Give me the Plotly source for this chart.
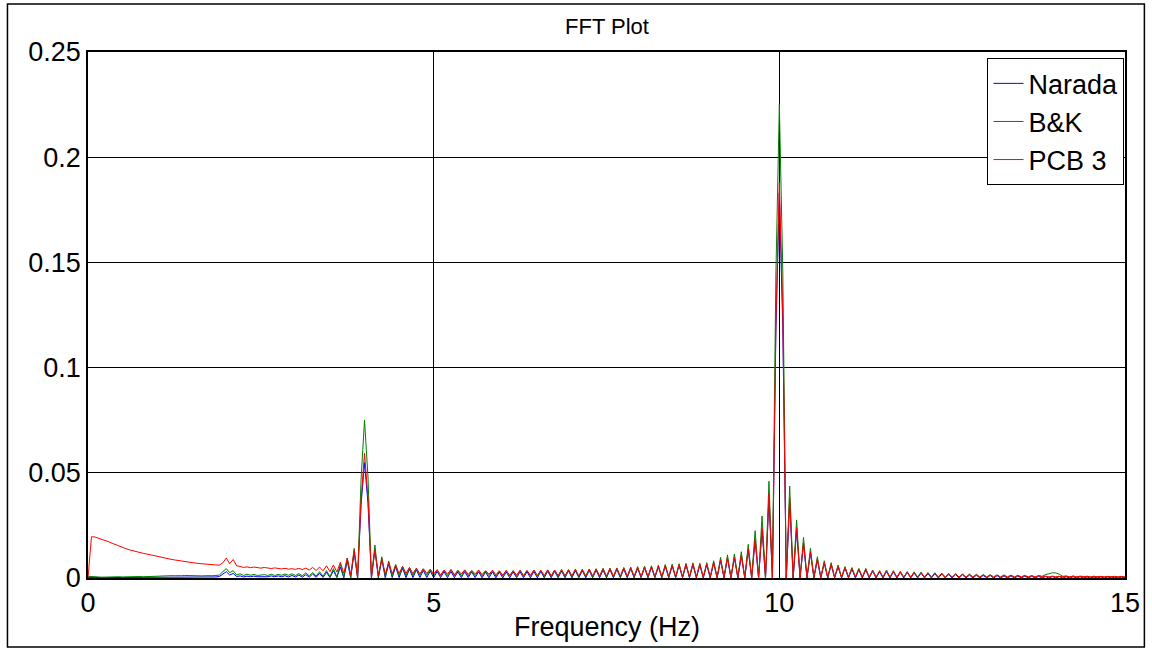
import numpy as np
import plotly.graph_objects as go

# Frequency grid (Hz), 0.05 Hz resolution, 0..15 Hz
FREQ = np.round(np.linspace(0, 15, 301), 2)

SERIES_NAMES = ["Narada", "B&K", "PCB 3"]
X_TICKS = [0, 5, 10, 15]
Y_TICKS = [0, 0.05, 0.1, 0.15, 0.2, 0.25]

NARADA = [
    0.0003, 0.0002, 0.0002, 0.0002, 0.0002, 0.0002, 0.0002, 0.0002, 0.0002, 0.0002,
    0.0002, 0.0002, 0.0002, 0.0002, 0.0002, 0.0003, 0.0002, 0.0003, 0.0003, 0.0003,
    0.0003, 0.0003, 0.0003, 0.0003, 0.0004, 0.0003, 0.0004, 0.0004, 0.0004, 0.0004,
    0.0004, 0.0004, 0.0004, 0.0004, 0.0004, 0.0004, 0.0005, 0.0005, 0.0007, 0.0018,
    0.0030, 0.0014, 0.0022, 0.0007, 0.0010, 0.0005, 0.0009, 0.0006, 0.0009, 0.0006,
    0.0006, 0.0009, 0.0006, 0.0010, 0.0006, 0.0010, 0.0006, 0.0011, 0.0005, 0.0012,
    0.0005, 0.0014, 0.0004, 0.0016, 0.0004, 0.0019, 0.0003, 0.0022, 0.0003, 0.0027,
    0.0002, 0.0035, 0.0002, 0.0052, 0.0001, 0.0080, 0.0001, 0.0120, 0.0000, 0.0350,
    0.0548, 0.0355, 0.0000, 0.0135, 0.0001, 0.0088, 0.0001, 0.0068, 0.0002, 0.0054,
    0.0002, 0.0047, 0.0002, 0.0042, 0.0002, 0.0039, 0.0002, 0.0036, 0.0002, 0.0033,
    0.0002, 0.0031, 0.0002, 0.0030, 0.0002, 0.0031, 0.0002, 0.0029, 0.0002, 0.0030,
    0.0002, 0.0029, 0.0002, 0.0030, 0.0001, 0.0028, 0.0001, 0.0029, 0.0001, 0.0028,
    0.0001, 0.0029, 0.0001, 0.0029, 0.0001, 0.0030, 0.0001, 0.0030, 0.0001, 0.0031,
    0.0001, 0.0031, 0.0001, 0.0032, 0.0001, 0.0032, 0.0001, 0.0033, 0.0001, 0.0034,
    0.0001, 0.0035, 0.0001, 0.0035, 0.0001, 0.0036, 0.0001, 0.0037, 0.0001, 0.0038,
    0.0001, 0.0040, 0.0001, 0.0041, 0.0001, 0.0042, 0.0001, 0.0044, 0.0001, 0.0046,
    0.0001, 0.0048, 0.0001, 0.0050, 0.0001, 0.0052, 0.0001, 0.0055, 0.0001, 0.0057,
    0.0001, 0.0059, 0.0001, 0.0061, 0.0001, 0.0063, 0.0000, 0.0061, 0.0000, 0.0063,
    0.0000, 0.0070, 0.0000, 0.0083, 0.0000, 0.0093, 0.0000, 0.0096, 0.0000, 0.0105,
    0.0000, 0.0133, 0.0000, 0.0178, 0.0000, 0.0230, 0.0000, 0.0375, 0.0000, 0.1170,
    0.1830, 0.1190, 0.0000, 0.0360, 0.0000, 0.0228, 0.0000, 0.0160, 0.0000, 0.0118,
    0.0000, 0.0085, 0.0000, 0.0070, 0.0000, 0.0062, 0.0000, 0.0053, 0.0000, 0.0046,
    0.0000, 0.0042, 0.0000, 0.0039, 0.0000, 0.0038, 0.0000, 0.0032, 0.0000, 0.0029,
    0.0000, 0.0031, 0.0000, 0.0029, 0.0000, 0.0027, 0.0000, 0.0026, 0.0000, 0.0024,
    0.0000, 0.0023, 0.0000, 0.0021, 0.0000, 0.0020, 0.0000, 0.0019, 0.0000, 0.0017,
    0.0000, 0.0016, 0.0000, 0.0015, 0.0000, 0.0014, 0.0000, 0.0013, 0.0000, 0.0012,
    0.0000, 0.0012, 0.0000, 0.0011, 0.0000, 0.0010, 0.0000, 0.0010, 0.0000, 0.0009,
    0.0000, 0.0009, 0.0000, 0.0008, 0.0000, 0.0008, 0.0000, 0.0007, 0.0000, 0.0007,
    0.0000, 0.0007, 0.0000, 0.0006, 0.0000, 0.0006, 0.0000, 0.0006, 0.0000, 0.0005,
    0.0000, 0.0005, 0.0000, 0.0005, 0.0000, 0.0005, 0.0000, 0.0004, 0.0000, 0.0004,
    0.0000,
]

BK = [
    0.0008, 0.0006, 0.0005, 0.0005, 0.0004, 0.0005, 0.0004, 0.0005, 0.0005, 0.0006,
    0.0005, 0.0006, 0.0006, 0.0005, 0.0006, 0.0007, 0.0006, 0.0007, 0.0007, 0.0008,
    0.0008, 0.0009, 0.0010, 0.0010, 0.0011, 0.0011, 0.0010, 0.0011, 0.0012, 0.0011,
    0.0011, 0.0012, 0.0011, 0.0010, 0.0011, 0.0010, 0.0011, 0.0012, 0.0014, 0.0030,
    0.0045, 0.0025, 0.0035, 0.0014, 0.0020, 0.0012, 0.0018, 0.0013, 0.0017, 0.0012,
    0.0013, 0.0016, 0.0012, 0.0018, 0.0012, 0.0017, 0.0013, 0.0019, 0.0013, 0.0020,
    0.0012, 0.0021, 0.0011, 0.0024, 0.0010, 0.0026, 0.0009, 0.0030, 0.0008, 0.0035,
    0.0006, 0.0045, 0.0005, 0.0065, 0.0004, 0.0095, 0.0003, 0.0141, 0.0002, 0.0470,
    0.0751, 0.0480, 0.0002, 0.0157, 0.0004, 0.0101, 0.0006, 0.0081, 0.0008, 0.0064,
    0.0010, 0.0056, 0.0011, 0.0050, 0.0012, 0.0046, 0.0012, 0.0043, 0.0013, 0.0040,
    0.0012, 0.0037, 0.0011, 0.0036, 0.0012, 0.0038, 0.0010, 0.0035, 0.0011, 0.0036,
    0.0010, 0.0034, 0.0011, 0.0036, 0.0010, 0.0033, 0.0011, 0.0035, 0.0009, 0.0034,
    0.0009, 0.0035, 0.0009, 0.0034, 0.0008, 0.0036, 0.0008, 0.0035, 0.0008, 0.0037,
    0.0008, 0.0036, 0.0007, 0.0038, 0.0007, 0.0037, 0.0007, 0.0039, 0.0007, 0.0040,
    0.0006, 0.0042, 0.0006, 0.0041, 0.0006, 0.0043, 0.0006, 0.0044, 0.0005, 0.0046,
    0.0005, 0.0047, 0.0005, 0.0048, 0.0005, 0.0050, 0.0005, 0.0052, 0.0004, 0.0054,
    0.0004, 0.0056, 0.0004, 0.0058, 0.0004, 0.0061, 0.0004, 0.0064, 0.0003, 0.0066,
    0.0003, 0.0068, 0.0003, 0.0070, 0.0003, 0.0072, 0.0003, 0.0070, 0.0002, 0.0073,
    0.0002, 0.0082, 0.0002, 0.0098, 0.0002, 0.0110, 0.0001, 0.0114, 0.0001, 0.0125,
    0.0001, 0.0160, 0.0001, 0.0225, 0.0001, 0.0295, 0.0000, 0.0460, 0.0000, 0.1440,
    0.2250, 0.1460, 0.0000, 0.0437, 0.0001, 0.0276, 0.0001, 0.0193, 0.0001, 0.0141,
    0.0002, 0.0101, 0.0002, 0.0082, 0.0002, 0.0073, 0.0003, 0.0062, 0.0003, 0.0054,
    0.0003, 0.0050, 0.0003, 0.0046, 0.0003, 0.0046, 0.0003, 0.0038, 0.0003, 0.0035,
    0.0003, 0.0038, 0.0003, 0.0035, 0.0003, 0.0032, 0.0003, 0.0031, 0.0003, 0.0029,
    0.0003, 0.0028, 0.0003, 0.0026, 0.0003, 0.0025, 0.0003, 0.0023, 0.0003, 0.0022,
    0.0003, 0.0021, 0.0003, 0.0020, 0.0003, 0.0019, 0.0003, 0.0018, 0.0003, 0.0017,
    0.0003, 0.0016, 0.0003, 0.0015, 0.0003, 0.0015, 0.0003, 0.0014, 0.0003, 0.0013,
    0.0003, 0.0013, 0.0003, 0.0012, 0.0004, 0.0012, 0.0008, 0.0016, 0.0020, 0.0025,
    0.0024, 0.0018, 0.0008, 0.0010, 0.0004, 0.0010, 0.0004, 0.0009, 0.0004, 0.0009,
    0.0004, 0.0009, 0.0004, 0.0008, 0.0004, 0.0008, 0.0004, 0.0008, 0.0004, 0.0008,
    0.0004,
]

PCB3 = [
    0.0000, 0.0196, 0.0195, 0.0190, 0.0185, 0.0179, 0.0172, 0.0165, 0.0158, 0.0151,
    0.0145, 0.0139, 0.0134, 0.0129, 0.0125, 0.0121, 0.0117, 0.0114, 0.0110, 0.0106,
    0.0102, 0.0099, 0.0095, 0.0092, 0.0089, 0.0086, 0.0083, 0.0080, 0.0077, 0.0075,
    0.0073, 0.0071, 0.0069, 0.0067, 0.0066, 0.0064, 0.0063, 0.0062, 0.0061, 0.0072,
    0.0095, 0.0068, 0.0088, 0.0058, 0.0055, 0.0050, 0.0053, 0.0049, 0.0052, 0.0048,
    0.0047, 0.0050, 0.0046, 0.0045, 0.0048, 0.0044, 0.0043, 0.0046, 0.0042, 0.0044,
    0.0041, 0.0046, 0.0040, 0.0047, 0.0038, 0.0050, 0.0036, 0.0052, 0.0034, 0.0058,
    0.0030, 0.0062, 0.0028, 0.0075, 0.0022, 0.0095, 0.0015, 0.0131, 0.0005, 0.0370,
    0.0593, 0.0380, 0.0005, 0.0131, 0.0012, 0.0092, 0.0018, 0.0074, 0.0020, 0.0062,
    0.0022, 0.0055, 0.0022, 0.0050, 0.0021, 0.0047, 0.0020, 0.0044, 0.0022, 0.0042,
    0.0020, 0.0040, 0.0015, 0.0038, 0.0018, 0.0041, 0.0016, 0.0037, 0.0019, 0.0039,
    0.0017, 0.0036, 0.0020, 0.0038, 0.0016, 0.0035, 0.0018, 0.0037, 0.0015, 0.0034,
    0.0014, 0.0036, 0.0013, 0.0035, 0.0014, 0.0037, 0.0012, 0.0036, 0.0013, 0.0038,
    0.0012, 0.0037, 0.0012, 0.0039, 0.0011, 0.0038, 0.0012, 0.0040, 0.0011, 0.0039,
    0.0011, 0.0041, 0.0010, 0.0040, 0.0011, 0.0042, 0.0010, 0.0043, 0.0010, 0.0044,
    0.0009, 0.0045, 0.0009, 0.0046, 0.0009, 0.0048, 0.0008, 0.0049, 0.0008, 0.0051,
    0.0008, 0.0053, 0.0008, 0.0055, 0.0007, 0.0057, 0.0007, 0.0060, 0.0007, 0.0062,
    0.0006, 0.0064, 0.0006, 0.0066, 0.0006, 0.0068, 0.0005, 0.0066, 0.0005, 0.0068,
    0.0005, 0.0075, 0.0004, 0.0088, 0.0004, 0.0098, 0.0003, 0.0100, 0.0003, 0.0110,
    0.0002, 0.0140, 0.0002, 0.0185, 0.0001, 0.0240, 0.0001, 0.0400, 0.0000, 0.1200,
    0.1880, 0.1250, 0.0000, 0.0380, 0.0001, 0.0240, 0.0002, 0.0170, 0.0002, 0.0125,
    0.0003, 0.0090, 0.0003, 0.0074, 0.0004, 0.0066, 0.0004, 0.0056, 0.0004, 0.0050,
    0.0005, 0.0046, 0.0005, 0.0042, 0.0005, 0.0041, 0.0005, 0.0035, 0.0005, 0.0032,
    0.0005, 0.0034, 0.0005, 0.0031, 0.0005, 0.0029, 0.0005, 0.0028, 0.0005, 0.0026,
    0.0005, 0.0025, 0.0005, 0.0023, 0.0005, 0.0022, 0.0005, 0.0021, 0.0005, 0.0019,
    0.0005, 0.0018, 0.0005, 0.0017, 0.0005, 0.0016, 0.0006, 0.0015, 0.0006, 0.0014,
    0.0006, 0.0014, 0.0006, 0.0013, 0.0006, 0.0012, 0.0006, 0.0012, 0.0006, 0.0011,
    0.0006, 0.0011, 0.0006, 0.0010, 0.0006, 0.0010, 0.0006, 0.0009, 0.0006, 0.0009,
    0.0006, 0.0008, 0.0006, 0.0008, 0.0006, 0.0008, 0.0006, 0.0008, 0.0006, 0.0007,
    0.0006, 0.0007, 0.0006, 0.0007, 0.0006, 0.0007, 0.0006, 0.0007, 0.0006, 0.0007,
    0.0006,
]

COLORS = ["#0000FF", "#008000", "#FF0000"]
FONT = "Liberation Sans, Arial, sans-serif"

fig = go.Figure()
for name, vals, col in zip(SERIES_NAMES, [NARADA, BK, PCB3], COLORS):
    fig.add_trace(go.Scatter(x=FREQ, y=vals, mode="lines", name=name,
                             line=dict(color=col, width=1)))

axis_common = dict(showline=True, linecolor="black", linewidth=1.5, mirror=True,
                   showgrid=True, gridcolor="black", gridwidth=1.3,
                   ticks="inside", ticklen=5, tickcolor="black", zeroline=False,
                   tickfont=dict(family=FONT, size=27, color="black"))

fig.update_layout(
    width=1152, height=648,
    margin=dict(l=88, r=21, t=52, b=70),
    paper_bgcolor="white", plot_bgcolor="white",
    showlegend=True,
    legend=dict(x=0.9995, y=0.988, xanchor="right", yanchor="top",
                bgcolor="white", bordercolor="black", borderwidth=1,
                font=dict(family=FONT, size=27, color="black"),
                tracegroupgap=0, itemwidth=30),
    xaxis=dict(range=[0, 15], tickvals=X_TICKS, **axis_common),
    yaxis=dict(range=[0, 0.25], tickvals=Y_TICKS, **axis_common),
    annotations=[
        dict(text="FFT Plot", xref="paper", yref="paper", x=0.5, y=(578 - 27) / 526,
             xanchor="center", yanchor="middle", showarrow=False,
             font=dict(family=FONT, size=22, color="black")),
        dict(text="Frequency (Hz)", xref="paper", yref="paper", x=0.5, y=(578 - 627) / 526,
             xanchor="center", yanchor="middle", showarrow=False,
             font=dict(family=FONT, size=27, color="black")),
    ],
    shapes=[
        dict(type="rect", xref="paper", yref="paper",
             x0=(7 - 88) / 1043, x1=(1150.5 - 88) / 1043,
             y0=(578 - 647) / 526, y1=(578 - 4) / 526,
             line=dict(color="black", width=1.5), fillcolor="rgba(0,0,0,0)", layer="below"),
    ],
)

fig.write_html(
    "out.html",
    config={"displayModeBar": False, "responsive": False},
    post_script="document.body.style.margin='0';document.body.style.overflow='hidden';"
                "document.documentElement.style.overflow='hidden';",
)
